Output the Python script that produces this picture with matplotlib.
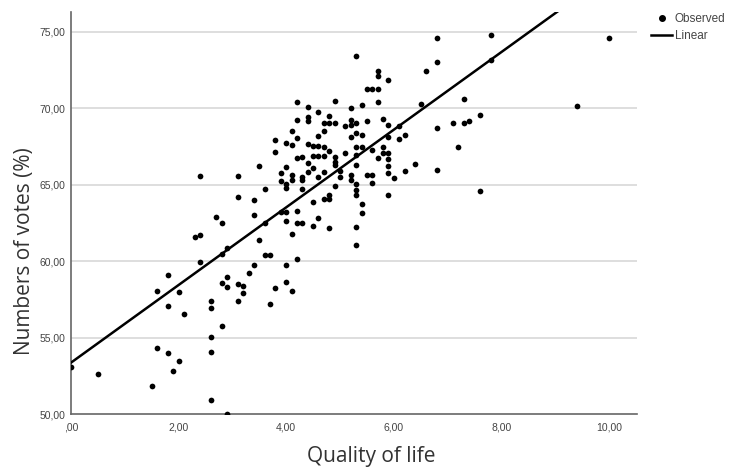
import matplotlib
matplotlib.use("Agg")
import matplotlib.pyplot as plt
from matplotlib.lines import Line2D

# Observed points (quality of life, votes %)
quality = [
    0.00, 0.50, 1.51, 1.60, 1.60, 1.80, 1.80, 1.80, 2.01, 2.01, 1.90, 2.10, 2.30, 2.40, 2.40, 2.40,
    2.60, 2.60, 2.60, 2.60, 2.60, 2.80, 2.80, 2.80, 2.90, 2.90, 2.90, 2.90, 3.10, 3.10, 3.20, 3.20,
    3.30, 3.40, 3.50, 3.10, 3.40, 3.40, 2.70, 2.80, 3.60, 3.90, 4.00, 4.00, 4.20, 4.20, 4.30, 4.10,
    3.60, 3.70, 4.00, 4.20, 3.80, 4.00, 4.10, 3.70, 5.30, 4.50, 4.70, 4.80, 4.80, 4.90, 4.50, 4.60,
    4.80, 5.30, 5.30, 5.30, 5.40, 5.40, 5.30, 5.60, 5.90, 6.00, 4.20, 4.40, 4.40, 4.40, 4.20, 4.10,
    4.20, 3.80, 4.00, 4.10, 4.40, 3.80, 4.20, 4.30, 4.40, 3.50, 3.10, 4.00, 3.90, 3.90, 4.10, 4.10,
    4.30, 4.30, 4.40, 4.00, 4.00, 3.60, 4.30, 5.30, 5.70, 5.70, 5.90, 5.50, 5.60, 5.70, 5.70, 4.90,
    5.40, 5.20, 4.60, 4.80, 4.70, 4.80, 4.90, 5.10, 5.20, 5.20, 5.30, 5.50, 5.80, 5.90, 6.10, 4.70,
    4.60, 5.20, 5.30, 5.40, 5.90, 6.10, 6.20, 4.50, 4.60, 4.70, 4.80, 4.50, 4.60, 4.70, 4.90, 4.90,
    4.90, 5.10, 5.30, 5.40, 5.30, 5.30, 5.60, 5.80, 5.80, 5.90, 5.90, 5.70, 5.90, 5.90, 4.50, 4.70,
    4.60, 5.00, 5.00, 5.20, 5.20, 5.50, 5.60, 6.20, 6.40, 6.50, 6.80, 6.80, 6.60, 7.30, 7.10, 7.30,
    7.40, 7.60, 6.80, 7.20, 6.80, 7.60, 7.80, 7.80, 10.00, 9.40,
]
votes = [
    53.10, 52.64, 51.81, 54.34, 58.07, 59.10, 57.09, 54.01, 58.00, 53.47, 52.83, 56.54, 61.60, 61.73, 59.95, 65.58,
    57.42, 56.94, 55.06, 54.08, 50.92, 60.47, 58.59, 55.76, 60.86, 58.99, 58.29, 50.02, 58.51, 57.40, 58.38, 57.90,
    59.20, 59.77, 61.39, 64.18, 64.00, 63.04, 62.87, 62.52, 62.48, 63.22, 63.22, 62.65, 63.30, 62.52, 62.48, 61.78,
    60.40, 60.40, 59.77, 60.16, 58.22, 58.66, 58.05, 57.20, 61.08, 63.84, 64.07, 64.07, 64.33, 64.92, 62.30, 62.80,
    62.15, 65.05, 64.66, 64.33, 63.72, 63.13, 62.26, 65.14, 64.33, 65.42, 70.40, 70.07, 69.42, 69.20, 69.22, 68.54,
    68.08, 67.93, 67.72, 67.60, 67.67, 67.15, 66.73, 66.80, 66.41, 66.25, 65.58, 66.15, 65.79, 65.25, 65.64, 65.31,
    65.53, 65.31, 65.82, 65.05, 64.77, 64.70, 64.70, 73.45, 72.47, 72.14, 71.86, 71.25, 71.25, 71.25, 70.40, 70.46,
    70.20, 70.05, 69.76, 69.50, 69.07, 69.07, 69.07, 68.85, 69.24, 68.92, 69.02, 69.18, 69.31, 68.93, 68.85, 68.54,
    68.21, 68.15, 68.37, 68.28, 68.15, 68.00, 68.28, 67.54, 67.54, 67.45, 67.21, 66.86, 66.86, 66.86, 66.80, 66.47,
    66.30, 67.06, 67.50, 67.50, 66.95, 66.32, 67.28, 67.45, 67.06, 67.10, 66.69, 66.73, 66.23, 65.75, 66.08, 65.84,
    65.49, 65.93, 65.49, 65.64, 65.31, 65.64, 65.64, 65.91, 66.35, 70.29, 74.59, 73.06, 72.45, 70.61, 69.02, 69.06,
    69.20, 69.57, 68.70, 67.50, 65.97, 64.60, 74.77, 73.13, 74.63, 70.16,
]

# Linear fit as drawn (intercept and slope)
fit_intercept = 53.36
fit_slope = 2.54
fit_x = [0.0, 10.6]
fit_y = [fit_intercept + fit_slope * v for v in fit_x]

x_ticks = [0, 2, 4, 6, 8, 10]
x_tick_labels = [",00", "2,00", "4,00", "6,00", "8,00", "10,00"]
y_ticks = [50, 55, 60, 65, 70, 75]
y_tick_labels = ["50,00", "55,00", "60,00", "65,00", "70,00", "75,00"]

fig = plt.figure(figsize=(7.31, 4.70), dpi=100)
ax = fig.add_axes([71 / 731, 1 - 414 / 470, 566 / 731, 402 / 470])

ax.set_xlim(0, 10.52)
ax.set_ylim(50, 76.3)

# light horizontal grid lines
for yv in y_ticks[1:]:
    ax.axhline(yv, color="#d4d4d4", linewidth=1.1, zorder=0)

ax.scatter(quality, votes, s=17, color="black", zorder=3, linewidths=0)
ax.plot(fit_x, fit_y, color="black", linewidth=1.8, zorder=4)

ax.set_xticks(x_ticks)
ax.set_xticklabels(x_tick_labels)
ax.set_yticks(y_ticks)
ax.set_yticklabels(y_tick_labels)
ax.tick_params(axis="both", length=0, labelsize=7.5, labelcolor="#444444")
ax.tick_params(axis="x", pad=6)
ax.tick_params(axis="y", pad=4)
for lab in ax.get_xticklabels() + ax.get_yticklabels():
    lab.set_family("Liberation Sans")

for side in ["top", "right"]:
    ax.spines[side].set_visible(False)
for side in ["left", "bottom"]:
    ax.spines[side].set_color("#666666")
    ax.spines[side].set_linewidth(1.2)

ax.set_xlabel("Quality of life", fontsize=15, family="Open Sans", color="#333333")
ax.set_ylabel("Numbers of votes (%)", fontsize=15, family="Open Sans", color="#333333")
ax.xaxis.set_label_coords(0.53, -0.08)
ax.yaxis.set_label_coords(-0.064, 0.405)

handles = [
    Line2D([], [], marker="o", linestyle="none", color="black", markersize=4),
    Line2D([], [], color="black", linewidth=1.8),
]
leg = fig.legend(handles, ["Observed", "Linear"], loc="upper left",
                 bbox_to_anchor=(651 / 731, 1 - 13 / 470), frameon=False,
                 prop={"family": "Liberation Sans", "size": 8.5},
                 handlelength=1.8, handletextpad=0.2, labelspacing=0.45,
                 borderaxespad=0, borderpad=0)
for t in leg.get_texts():
    t.set_color("#444444")

fig.savefig("out.png", dpi=100)
